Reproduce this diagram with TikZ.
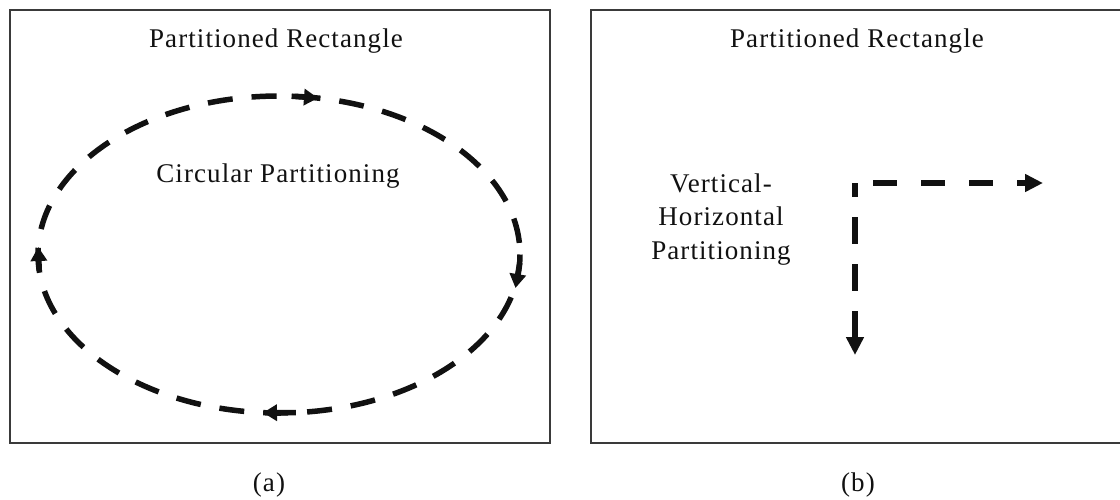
\documentclass[tikz,border=0pt]{standalone}
\usepackage{fontspec}
\setmainfont{Liberation Serif}[LetterSpace=4]
\usetikzlibrary{arrows.meta}
\definecolor{framegray}{HTML}{3A3A3A}
\definecolor{inkblack}{HTML}{111111}
\begin{document}
\begin{tikzpicture}[x=1pt,y=-1pt,
  frame/.style={draw=framegray, line width=2.4pt},
  lbl/.style={font=\fontsize{27}{33.5}\selectfont, text=inkblack, inner sep=0pt, anchor=base, align=center},
  elldash/.style={draw=inkblack, line width=5.5pt, dash pattern=on 25pt off 19pt},
  ellarrow/.style={draw=inkblack, line width=5.5pt, -{Triangle[length=14pt,width=16pt]}},
  vhdash/.style={draw=inkblack, line width=6pt, -{Triangle[length=18pt,width=17pt]}}]
\useasboundingbox (0,0) rectangle (1120,499);
\fill[white] (0,0) rectangle (1120,499);
\clip (0,0) rectangle (1120,499);

% frames
\draw[frame] (10,10) rectangle (550,443);
\draw[frame] (591,10) rectangle (1135,443);

% panel (a)
\node[lbl] (titleA) at (276,47) {Partitioned Rectangle};
\node[lbl] (circ) at (278,182) {Circular Partitioning};
\draw[elldash] (279,254.5) ellipse [x radius=241, y radius=158.5];

\coordinate (topS) at (291.6,96.2);
\coordinate (topT) at (318,98.1);
\coordinate (rightS) at (519.7,262.8);
\coordinate (rightT) at (515.5,288);
\coordinate (botS) at (295.8,412.6);
\coordinate (botT) at (263,412.7);
\coordinate (leftS) at (39.3,271.1);
\coordinate (leftT) at (38.3,247);
\draw[ellarrow] (topS) -- (topT);
\draw[ellarrow] (rightS) -- (rightT);
\draw[ellarrow] (botS) -- (botT);
\draw[ellarrow] (leftS) -- (leftT);

\node[lbl] (capA) at (269,491) {(a)};

% panel (b)
\node[lbl] (titleB) at (857,47) {Partitioned Rectangle};
\node[lbl] (vh) at (721,259) {Vertical-\\Horizontal\\Partitioning};

\coordinate (vS) at (855,183);
\coordinate (vT) at (855,355);
\coordinate (hS) at (873,183);
\coordinate (hT) at (1043,183);
\draw[vhdash, dash pattern=on 27pt off 20pt, dash phase=13pt] (vS) -- (vT);
\draw[vhdash, dash pattern=on 24pt off 24pt] (hS) -- (hT);

\node[lbl] (capB) at (858,491) {(b)};
\end{tikzpicture}
\end{document}
